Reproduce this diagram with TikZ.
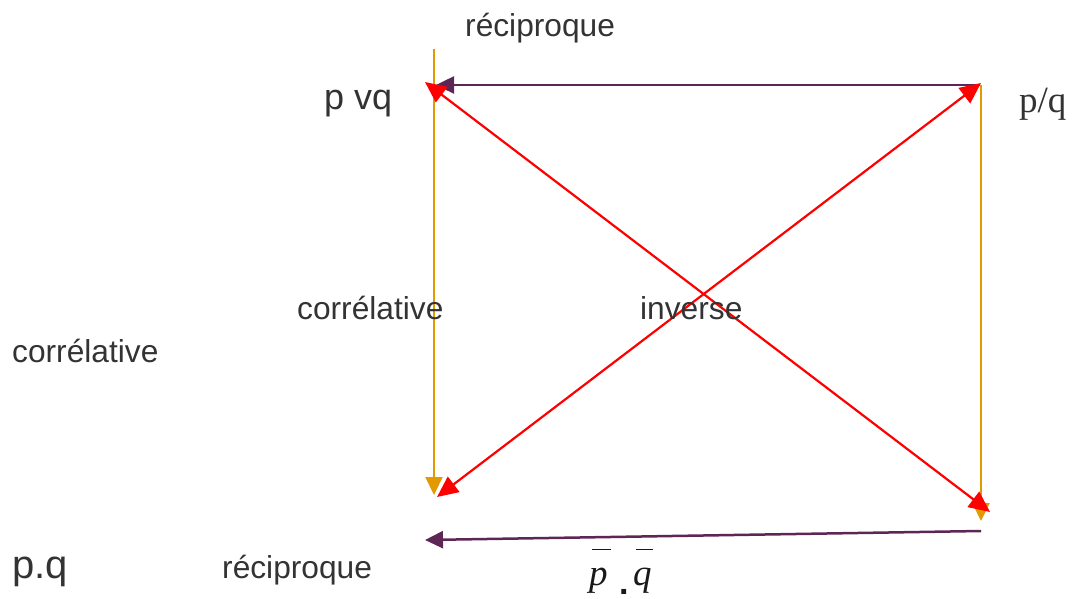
\documentclass[tikz,border=0pt]{standalone}
\usepackage{fontspec}
\setmainfont{Liberation Sans}
\newfontfamily\serifface{Liberation Serif}
\usetikzlibrary{arrows.meta}
\definecolor{txt}{HTML}{333333}
\definecolor{orangeline}{HTML}{E39A00}
\definecolor{purpleline}{HTML}{5E2654}
\definecolor{redline}{HTML}{FF0000}
\tikzset{
  lbl/.style={anchor=base west, inner sep=0pt, text=txt, font=\fontsize{31.7}{34}\selectfont},
  biglbl/.style={anchor=base west, inner sep=0pt, text=txt, font=\fontsize{36}{40}\selectfont},
  serlbl/.style={anchor=base west, inner sep=0pt, text=black!80, font=\serifface\fontsize{37}{40}\selectfont},
  mathlbl/.style={anchor=base west, inner sep=0pt, text=black!90, font=\serifface\itshape\fontsize{37}{40}\selectfont},
  tip/.style={-{Triangle[length=18pt,width=17pt]}},
  orangearrow/.style={tip, draw=orangeline, fill=orangeline, line width=2.2pt},
  purplearrow/.style={tip, draw=purpleline, fill=purpleline, line width=2.5pt},
  redarrow/.style={{Triangle[length=21pt,width=19pt]}-{Triangle[length=21pt,width=19pt]}, draw=redline, fill=redline, line width=2.2pt},
}
\begin{document}
\begin{tikzpicture}[x=1pt,y=-1pt]
\useasboundingbox (0,0) rectangle (1076,599);
% endpoints
\coordinate (lo1) at (434,49);
\coordinate (lo2) at (434,495);
\coordinate (ro1) at (981,85);
\coordinate (ro2) at (981,521);
\coordinate (tp1) at (980,85);
\coordinate (tp2) at (436,85);
\coordinate (bp1) at (981,531);
\coordinate (bp2) at (425,540);
\coordinate (ra1) at (425,82);
\coordinate (ra2) at (990,512);
\coordinate (rb1) at (981,83);
\coordinate (rb2) at (437,497);
% connectors
\draw[orangearrow] (lo1) -- (lo2);
\draw[orangearrow] (ro1) -- (ro2);
\draw[purplearrow] (tp1) -- (tp2);
\draw[purplearrow] (bp1) -- (bp2);
\draw[redarrow] (ra1) -- (ra2);
\draw[redarrow] (rb1) -- (rb2);
% labels
\node[lbl] (rectop) at (465,37) {réciproque};
\node[biglbl] (pvq) at (324,110) {p vq};
\node[serlbl] (pq) at (1019,113) {p/q};
\node[lbl] (corrmid) at (297,319) {corrélative};
\node[lbl] (inv) at (640,319) {inverse};
\node[lbl] (corrleft) at (12,362) {corrélative};
\node[biglbl, font=\fontsize{40}{42}\selectfont] (pdotq) at (12,578) {p.q};
\node[lbl] (recbot) at (222,578) {réciproque};
\node[mathlbl] (pbar) at (589,585)
  {\rlap{\kern3pt\raisebox{35pt}{\rule{19pt}{1.3pt}}}p};
\node[mathlbl] (qbar) at (633,585)
  {\rlap{\kern3pt\raisebox{35pt}{\rule{17pt}{1.3pt}}}q};
\node[anchor=base west, inner sep=0pt, text=black!90, font=\bfseries\fontsize{34}{36}\selectfont] (dot) at (619,594) {.};
\end{tikzpicture}
\end{document}
